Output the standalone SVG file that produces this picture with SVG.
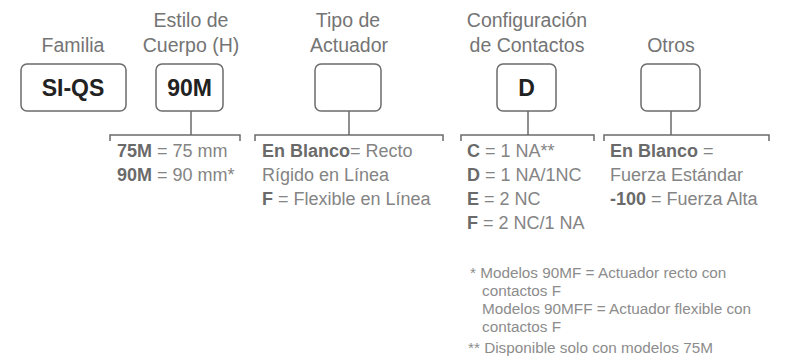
<svg xmlns="http://www.w3.org/2000/svg" width="786" height="360" viewBox="0 0 786 360">
<style>
.box{fill:#fff;stroke:#6b6b6b;stroke-width:1.5}
.hdr{font-family:"Liberation Sans",Arial,sans-serif;font-size:19.5px;fill:#747474;text-anchor:middle}
.val{font-family:"Liberation Sans",Arial,sans-serif;font-size:23px;font-weight:bold;fill:#222;text-anchor:middle}
.desc{font-family:"Liberation Sans",Arial,sans-serif;font-size:18px;fill:#848484}
.desc .b{font-weight:bold;fill:#6a6a6a}
.note{font-family:"Liberation Sans",Arial,sans-serif;font-size:15.3px;fill:#8c8c8c}
.ln{fill:none;stroke:#6b6b6b;stroke-width:1.5}
</style>
<rect width="786" height="360" fill="#fff"/>
<g id="familia">
<text class="hdr" x="73" y="52">Familia</text>
<rect class="box" x="21" y="64" width="105" height="47" rx="6"/>
<text class="val" x="73" y="96">SI-QS</text>
</g>
<g id="cuerpo">
<text class="hdr" x="191" y="27">Estilo de</text>
<text class="hdr" x="191" y="52">Cuerpo (H)</text>
<rect class="box" x="156" y="64" width="67" height="47" rx="6"/>
<text class="val" x="189.5" y="96">90M</text>
</g>
<g id="actuador">
<text class="hdr" x="348" y="27">Tipo de</text>
<text class="hdr" x="349" y="52">Actuador</text>
<rect class="box" x="315" y="64" width="66" height="47" rx="6"/>
</g>
<g id="contactos">
<text class="hdr" x="527" y="27">Configuración</text>
<text class="hdr" x="527" y="52">de Contactos</text>
<rect class="box" x="497" y="64" width="59" height="47" rx="6"/>
<text class="val" x="526.5" y="96">D</text>
</g>
<g id="otros">
<text class="hdr" x="671" y="52">Otros</text>
<rect class="box" x="641" y="64" width="59" height="47" rx="6"/>
</g>
<g id="connectors">
<path class="ln" d="M191 111V135M110 141V135H240V141"/>
<path class="ln" d="M349 111V135M255 141V135H443V141"/>
<path class="ln" d="M528 111V135M461 141V135H594V141"/>
<path class="ln" d="M671 111V135M604 141V135H769V141"/>
</g>
<g id="desc-cuerpo" class="desc">
<text x="117" y="157"><tspan class="b">75M</tspan> = 75 mm</text>
<text x="117" y="181"><tspan class="b">90M</tspan> = 90 mm*</text>
</g>
<g id="desc-actuador" class="desc">
<text x="262" y="157"><tspan class="b">En Blanco</tspan>= Recto</text>
<text x="262" y="181">Rígido en Línea</text>
<text x="262" y="205"><tspan class="b">F</tspan> = Flexible en Línea</text>
</g>
<g id="desc-contactos" class="desc">
<text x="467" y="157"><tspan class="b">C</tspan> = 1 NA**</text>
<text x="467" y="181"><tspan class="b">D</tspan> = 1 NA/1NC</text>
<text x="467" y="205"><tspan class="b">E</tspan> = 2 NC</text>
<text x="467" y="229"><tspan class="b">F</tspan> = 2 NC/1 NA</text>
</g>
<g id="desc-otros" class="desc">
<text x="610" y="157"><tspan class="b">En Blanco</tspan> =</text>
<text x="610" y="181">Fuerza Estándar</text>
<text x="610" y="205"><tspan class="b">-100</tspan> = Fuerza Alta</text>
</g>
<g id="notes" class="note">
<text x="470" y="278">* Modelos 90MF = Actuador recto con</text>
<text x="482" y="296">contactos F</text>
<text x="482" y="314">Modelos 90MFF = Actuador flexible con</text>
<text x="482" y="332">contactos F</text>
<text x="468" y="353">** Disponible solo con modelos 75M</text>
</g>
</svg>
